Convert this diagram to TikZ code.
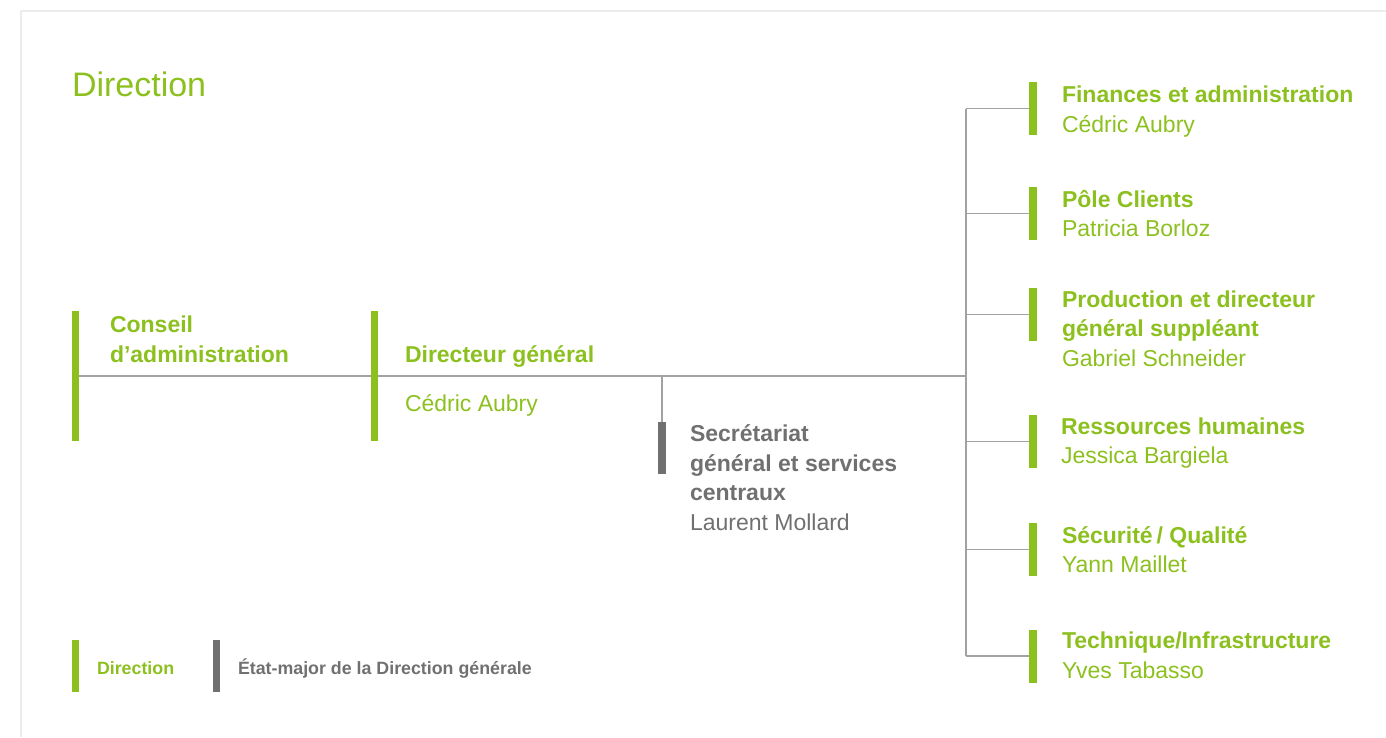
\documentclass[tikz,border=0pt]{standalone}
\usepackage{fontspec}
\setmainfont{Liberation Sans}
\usetikzlibrary{positioning}
\definecolor{dirgreen}{RGB}{140,192,30}
\definecolor{stabgray}{RGB}{112,112,112}
\definecolor{linkgray}{RGB}{162,162,162}
\definecolor{framegray}{RGB}{236,236,236}

\begin{document}
\begin{tikzpicture}[x=1pt,y=-1pt,
	every node/.style={inner sep=0pt, outer sep=0pt},
	bar/.style={fill=dirgreen, anchor=north west, minimum width=7pt, minimum height=53pt},
	sbar/.style={bar, fill=stabgray},
	link/.style={draw=linkgray, line width=1.5pt},
	lbl/.style={anchor=base west, align=left, text=dirgreen, font=\fontsize{23}{29.5}\selectfont},
	slbl/.style={lbl, text=stabgray},
	key/.style={anchor=base west, font=\fontsize{17.8}{20}\selectfont\bfseries}]
	\useasboundingbox (0,0) rectangle (1386,737);
	\draw [framegray, line width=2.5pt] (1386,11) -- (21,11) -- (21,737);
	\node [anchor=base west, text=dirgreen, font=\fontsize{34}{40}\selectfont] (title) at (72,96) {Direction};
	% left part (text nodes sit on the baseline of their last line)
	\node [bar, minimum height=130pt] (ca) at (72,311) {};
	\node [lbl] (ca-t) at (110,362) {\bfseries Conseil\\\bfseries d’administration};
	\node [bar, minimum height=130pt] (dg) at (371,311) {};
	\node [lbl] (dg-t) at (405,362) {\bfseries Directeur général};
	\node [lbl] (dg-n) at (405,411) {Cédric Aubry};
	\node [sbar, minimum width=8pt, minimum height=52pt] (sg) at (658,422) {};
	\node [slbl] (sg-t) at (690,530) {\bfseries Secrétariat\\\bfseries général et services\\\bfseries centraux\\Laurent Mollard};
	\coordinate (hub) at (966,376);
	% right part
	\node [bar, minimum width=8pt] (fin) at (1029,82) {};
	\node [lbl] (fin-t) at (1062,132) {\bfseries Finances et administration\\Cédric Aubry};
	\node [bar, minimum width=8pt] (pole) at (1029,187) {};
	\node [lbl] (pole-t) at (1062,236.5) {\bfseries Pôle Clients\\Patricia Borloz};
	\node [bar, minimum width=8pt] (prod) at (1029,288) {};
	\node [lbl] (prod-t) at (1062,366) {\bfseries Production et directeur\\\bfseries général suppléant\\Gabriel Schneider};
	\node [bar, minimum width=8pt] (rh) at (1029,415) {};
	\node [lbl] (rh-t) at (1061,463.5) {\bfseries Ressources humaines\\Jessica Bargiela};
	\node [bar, minimum width=8pt] (secu) at (1029,523) {};
	\node [lbl] (secu-t) at (1062,572.5) {\bfseries Sécurité\,/ Qualité\\Yann Maillet};
	\node [bar, minimum width=8pt] (tech) at (1029,629.5) {};
	\node [lbl] (tech-t) at (1062,678) {\bfseries Technique/Infrastructure\\Yves Tabasso};
	% links
	\draw [link] (ca.east) -- (dg.west);
	\draw [link] (dg.east) -- (hub);
	\draw [link] (sg.north) -- (sg.north |- hub);
	\draw [link] (hub |- fin.west) -- (hub |- tech.west);
	\foreach \u in {fin,pole,prod,rh,secu,tech}
		\draw [link] (hub |- \u.west) -- (\u.west);
	% legend
	\node [bar, minimum height=52pt] (kd) at (72,640) {};
	\node [key, text=dirgreen] (kd-t) at (97,674) {Direction};
	\node [sbar, minimum height=52pt] (ke) at (213,640) {};
	\node [key, text=stabgray] (ke-t) at (238,674) {État-major de la Direction générale};
\end{tikzpicture}
\end{document}
